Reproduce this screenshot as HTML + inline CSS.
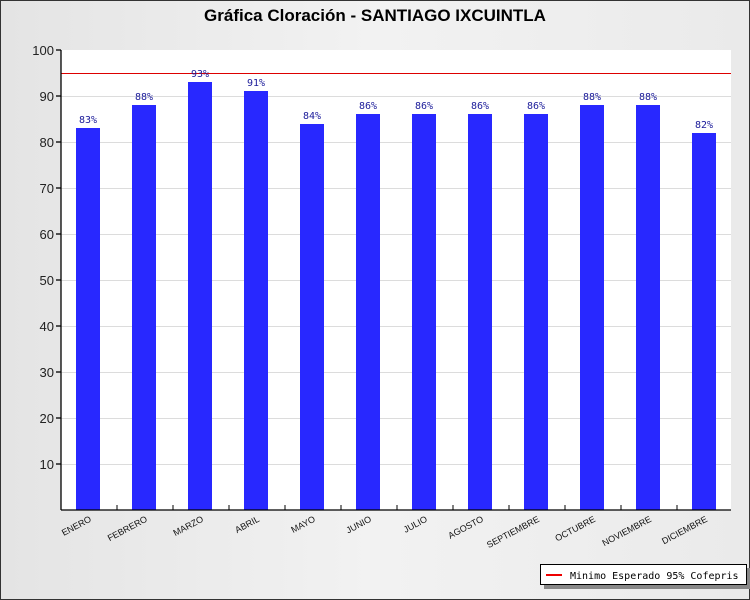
<!DOCTYPE html>
<html><head><meta charset="utf-8"><style>body{margin:0}svg{display:block}</style></head><body>
<svg width="750" height="600" xmlns="http://www.w3.org/2000/svg" font-family="Liberation Sans, sans-serif">
<defs><linearGradient id="bg" x1="0" y1="0" x2="1" y2="0"><stop offset="0" stop-color="#e4e4e4"/><stop offset="0.5" stop-color="#f2f2f2"/><stop offset="1" stop-color="#eaeaea"/></linearGradient></defs>
<rect x="0" y="0" width="750" height="600" fill="url(#bg)"/>
<rect x="0.5" y="0.5" width="749" height="599" fill="none" stroke="#333"/>
<text x="375" y="21" text-anchor="middle" font-size="17" font-weight="bold" fill="#000">Gráfica Cloración - SANTIAGO IXCUINTLA</text>
<rect x="61" y="50" width="670" height="460" fill="#fff"/>
<g stroke="#dcdcdc" stroke-width="1">
<line x1="61" x2="731" y1="96.5" y2="96.5"/><line x1="61" x2="731" y1="142.5" y2="142.5"/><line x1="61" x2="731" y1="188.5" y2="188.5"/><line x1="61" x2="731" y1="234.5" y2="234.5"/><line x1="61" x2="731" y1="280.5" y2="280.5"/><line x1="61" x2="731" y1="326.5" y2="326.5"/><line x1="61" x2="731" y1="372.5" y2="372.5"/><line x1="61" x2="731" y1="418.5" y2="418.5"/><line x1="61" x2="731" y1="464.5" y2="464.5"/>
</g>
<line x1="61" x2="731" y1="73.5" y2="73.5" stroke="#d00" stroke-width="1"/>
<g fill="#2828ff">
<rect x="76" y="128" width="24" height="382"/><rect x="132" y="105" width="24" height="405"/><rect x="188" y="82" width="24" height="428"/><rect x="244" y="91" width="24" height="419"/><rect x="300" y="124" width="24" height="386"/><rect x="356" y="114" width="24" height="396"/><rect x="412" y="114" width="24" height="396"/><rect x="468" y="114" width="24" height="396"/><rect x="524" y="114" width="24" height="396"/><rect x="580" y="105" width="24" height="405"/><rect x="636" y="105" width="24" height="405"/><rect x="692" y="133" width="24" height="377"/>
</g>
<g font-family="DejaVu Sans Mono, Liberation Mono, monospace" font-size="10" fill="#1a1a99" text-anchor="middle">
<text x="88" y="123">83%</text><text x="144" y="100">88%</text><text x="200" y="77">93%</text><text x="256" y="86">91%</text><text x="312" y="119">84%</text><text x="368" y="109">86%</text><text x="424" y="109">86%</text><text x="480" y="109">86%</text><text x="536" y="109">86%</text><text x="592" y="100">88%</text><text x="648" y="100">88%</text><text x="704" y="128">82%</text>
</g>
<g stroke="#000" stroke-width="1.3">
<line x1="61" y1="50" x2="61" y2="510"/><line x1="61" y1="510" x2="731" y2="510"/>
<line x1="56" x2="61" y1="50" y2="50"/><line x1="56" x2="61" y1="96" y2="96"/><line x1="56" x2="61" y1="142" y2="142"/><line x1="56" x2="61" y1="188" y2="188"/><line x1="56" x2="61" y1="234" y2="234"/><line x1="56" x2="61" y1="280" y2="280"/><line x1="56" x2="61" y1="326" y2="326"/><line x1="56" x2="61" y1="372" y2="372"/><line x1="56" x2="61" y1="418" y2="418"/><line x1="56" x2="61" y1="464" y2="464"/>
</g>
<g stroke="#000" stroke-width="1">
<line x1="117" x2="117" y1="505" y2="510"/><line x1="173" x2="173" y1="505" y2="510"/><line x1="229" x2="229" y1="505" y2="510"/><line x1="285" x2="285" y1="505" y2="510"/><line x1="341" x2="341" y1="505" y2="510"/><line x1="397" x2="397" y1="505" y2="510"/><line x1="453" x2="453" y1="505" y2="510"/><line x1="509" x2="509" y1="505" y2="510"/><line x1="565" x2="565" y1="505" y2="510"/><line x1="621" x2="621" y1="505" y2="510"/><line x1="677" x2="677" y1="505" y2="510"/>
</g>
<g font-size="13" fill="#222" text-anchor="end">
<text x="54" y="55">100</text><text x="54" y="101">90</text><text x="54" y="147">80</text><text x="54" y="193">70</text><text x="54" y="239">60</text><text x="54" y="285">50</text><text x="54" y="331">40</text><text x="54" y="377">30</text><text x="54" y="423">20</text><text x="54" y="469">10</text>
</g>
<g font-size="9" fill="#111" text-anchor="end">
<text transform="translate(92,521) rotate(-28)">ENERO</text>
<text transform="translate(148,521) rotate(-28)">FEBRERO</text>
<text transform="translate(204,521) rotate(-28)">MARZO</text>
<text transform="translate(260,521) rotate(-28)">ABRIL</text>
<text transform="translate(316,521) rotate(-28)">MAYO</text>
<text transform="translate(372,521) rotate(-28)">JUNIO</text>
<text transform="translate(428,521) rotate(-28)">JULIO</text>
<text transform="translate(484,521) rotate(-28)">AGOSTO</text>
<text transform="translate(540,521) rotate(-28)">SEPTIEMBRE</text>
<text transform="translate(596,521) rotate(-28)">OCTUBRE</text>
<text transform="translate(652,521) rotate(-28)">NOVIEMBRE</text>
<text transform="translate(708,521) rotate(-28)">DICIEMBRE</text>
</g>
<rect x="544" y="568" width="207" height="21" fill="#888"/>
<rect x="540.5" y="564.5" width="206" height="20" fill="#fff" stroke="#000"/>
<line x1="546" x2="562" y1="575" y2="575" stroke="#e00" stroke-width="2"/>
<text x="570" y="579" font-family="DejaVu Sans Mono, Liberation Mono, monospace" font-size="10" fill="#000">Minimo Esperado 95% Cofepris</text>
</svg>
</body></html>
